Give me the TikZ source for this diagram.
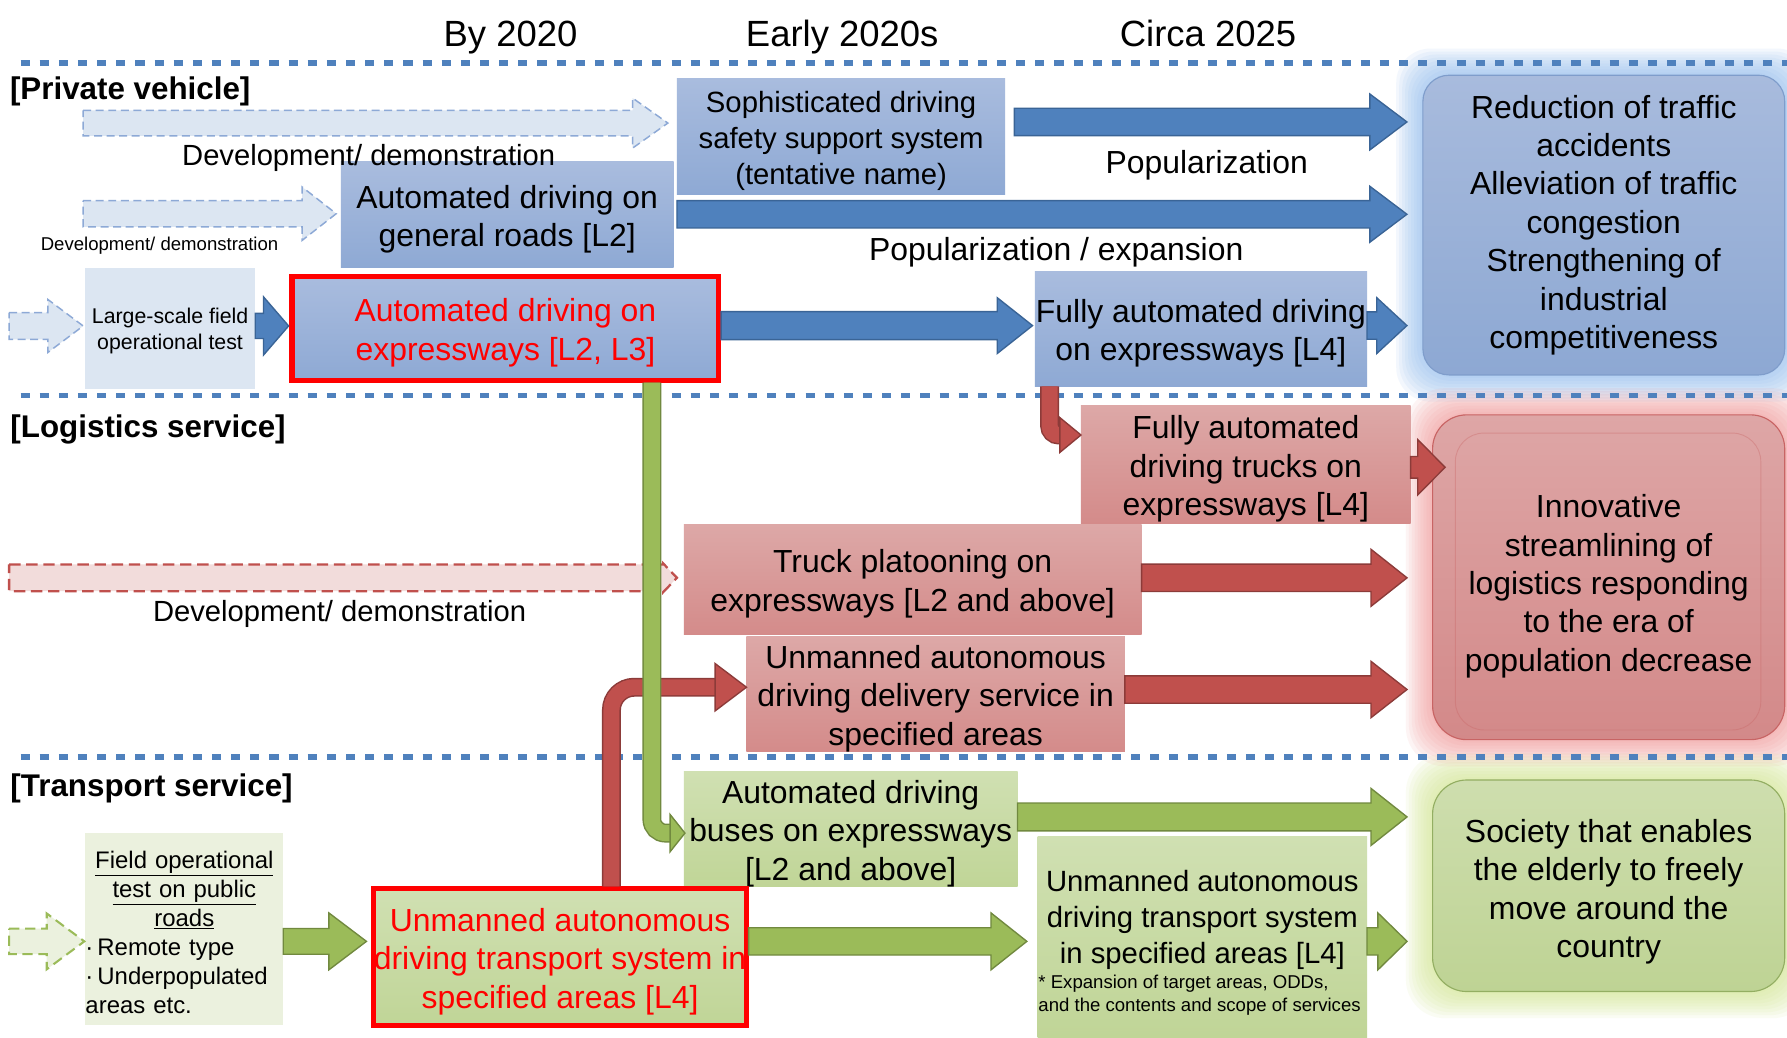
\documentclass[tikz,border=0pt]{standalone}
\usepackage{fontspec}
\setmainfont{Liberation Sans}
\usetikzlibrary{calc,backgrounds}

\definecolor{sepblue}{HTML}{4F81BD}
\definecolor{boxbluetop}{HTML}{A9BCDE}
\definecolor{boxbluebot}{HTML}{8EA9D4}
\definecolor{arrblue}{HTML}{4F81BD}
\definecolor{arrblueline}{HTML}{3A6496}
\definecolor{paleblue}{HTML}{DCE6F2}
\definecolor{dashblue}{HTML}{8DA9D6}
\definecolor{boxredtop}{HTML}{DDA8A7}
\definecolor{boxredbot}{HTML}{D48B8A}
\definecolor{arrred}{HTML}{C0504D}
\definecolor{arrredline}{HTML}{8C3B39}
\definecolor{palered}{HTML}{F2DCDB}
\definecolor{boxgreentop}{HTML}{D0E0B2}
\definecolor{boxgreenbot}{HTML}{C0D597}
\definecolor{arrgreen}{HTML}{9BBB59}
\definecolor{arrgreenline}{HTML}{71893F}
\definecolor{palegreen}{HTML}{EBF1DE}
\definecolor{goalbluetop}{HTML}{A8BBDD}
\definecolor{goalbluebot}{HTML}{8DA8D3}
\definecolor{goalblueline}{HTML}{7F9DCB}
\definecolor{goalredtop}{HTML}{DEA6A6}
\definecolor{goalredbot}{HTML}{D38989}
\definecolor{goalredline}{HTML}{C86464}
\definecolor{goalgreentop}{HTML}{CEDEAE}
\definecolor{goalgreenbot}{HTML}{BED394}
\definecolor{goalgreenline}{HTML}{93AE62}
\definecolor{glowblue}{HTML}{8DB9EE}
\definecolor{glowred}{HTML}{F08C8C}
\definecolor{glowgreen}{HTML}{D2E68C}

\newcommand\hdsz{\fontsize{32}{38}\selectfont}
\newcommand\secsz{\fontsize{27.5}{32}\selectfont\bfseries}
\newcommand\txtsz{\fontsize{28}{33.7}\selectfont}
\newcommand\midsz{\fontsize{25.7}{31.5}\selectfont}
\newcommand\devsz{\fontsize{25.6}{30}\selectfont}
\newcommand\fotsz{\fontsize{18.7}{23}\selectfont}
\newcommand\fldsz{\fontsize{21}{25.3}\selectfont}
\newcommand\tinysz{\fontsize{16.3}{20}\selectfont}
\newcommand\tstrut{\rule{0pt}{1em}}

% block arrow: style, from, to, half shaft, half head, head length
\newcommand\blockarrow[6]{%
  \draw[#1] let \p1=#2, \p2=#3 in
    (\x1,\y1+#4pt) -- (\x2-#6pt,\y1+#4pt) -- (\x2-#6pt,\y1+#5pt) -- (\x2,\y1)
    -- (\x2-#6pt,\y1-#5pt) -- (\x2-#6pt,\y1-#4pt) -- (\x1,\y1-#4pt) -- cycle;}
% head of a bent pipe: style, tip, half head, head length
\newcommand\pipehead[4]{%
  \draw[#1] let \p1=#2 in (\x1,\y1) -- (\x1-#4pt,\y1+#3pt) -- (\x1-#4pt,\y1-#3pt) -- cycle;}

\tikzset{
  box/.style={rectangle, inner sep=0pt, outer sep=0pt, anchor=north west, align=center, font=\txtsz},
  bluebox/.style={box, top color=boxbluetop, bottom color=boxbluebot},
  redbox/.style={box, top color=boxredtop, bottom color=boxredbot},
  greenbox/.style={box, top color=boxgreentop, bottom color=boxgreenbot},
  redframe/.style={draw=red, line width=4.5pt, text=red},
  goal/.style={box, rounded corners=25pt, line width=1pt},
  lbl/.style={inner sep=0pt, anchor=base},
  bluearrow/.style={fill=arrblue, draw=arrblueline, line width=1.2pt},
  redarrow/.style={fill=arrred, draw=arrredline, line width=1.2pt},
  greenarrow/.style={fill=arrgreen, draw=arrgreenline, line width=1.2pt},
  devblue/.style={fill=paleblue, draw=dashblue, line width=1.3pt, dash pattern=on 7pt off 4pt},
  devred/.style={fill=palered, draw=arrred, line width=2pt, dash pattern=on 10pt off 5pt},
  devgreen/.style={fill=palegreen, draw=arrgreen, line width=1.8pt, dash pattern=on 9pt off 5pt},
  pipe/.style={line width=1.3pt, double distance=14pt},
  sep/.style={sepblue, line width=5pt, dash pattern=on 8pt off 8.8pt}
}

\begin{document}
\begin{tikzpicture}[x=1pt, y=-1pt]
\useasboundingbox (0,0) rectangle (1568,910);

% private vehicle
\node[bluebox, font=\midsz, minimum width=288pt, minimum height=102.4pt] (soph) at (594,68.6) {\tstrut Sophisticated driving\\safety support system\\(tentative name)};
\node[bluebox, minimum width=292pt, minimum height=93pt] (genroad) at (299,142) {\tstrut Automated driving on\\general roads [L2]};
\node[box, fill=paleblue, font=\fotsz, minimum width=149.5pt, minimum height=106pt] (fot) at (74.5,235) {\tstrut Large-scale field\\operational test};
\node[bluebox, redframe, minimum width=374.5pt, minimum height=91.5pt] (expL23) at (256.25,242.25) {\tstrut Automated driving on\\expressways [L2, L3]};
\node[bluebox, minimum width=291.5pt, minimum height=101pt] (expL4) at (908,238) {\tstrut Fully automated driving\\on expressways [L4]};
\node[goal, top color=goalbluetop, bottom color=goalbluebot, draw=goalblueline, rounded corners=23pt, minimum width=317.5pt, minimum height=263pt] (goalpriv) at (1248.5,66) {Reduction of traffic\\accidents\\Alleviation of traffic\\congestion\\Strengthening of\\industrial\\competitiveness};

% logistics service
\node[redbox, minimum width=289.2pt, minimum height=103pt] (truckL4) at (948.5,356) {\tstrut Fully automated\\driving trucks on\\expressways [L4]};
\node[redbox, minimum width=401.7pt, minimum height=97pt] (platoon) at (600,460) {\tstrut Truck platooning on\\expressways [L2 and above]};
\node[redbox, minimum width=332pt, minimum height=98.4pt] (delivery) at (655,558.6) {\tstrut Unmanned autonomous\\driving delivery service in\\specified areas};
\node[goal, top color=goalredtop, bottom color=goalredbot, draw=goalredline, rounded corners=30pt, minimum width=309pt, minimum height=285pt] (goallogi) at (1257,364) {\rule{0pt}{36pt}Innovative\\streamlining of\\logistics responding\\to the era of\\population decrease};
\draw[goalredline, opacity=0.35, line width=0.8pt, rounded corners=25pt] ($(goallogi.north west)+(20,16)$) rectangle ($(goallogi.south east)+(-21,-8.5)$);

% transport service
\node[greenbox, minimum width=292.8pt, minimum height=97.5pt] (buses) at (600,677) {\tstrut Automated driving\\buses on expressways\\{}[L2 and above]};
\node[greenbox, redframe, minimum width=325.2pt, minimum height=120.1pt] (transL4) at (328.05,779.65) {\tstrut Unmanned autonomous\\driving transport system in\\specified areas [L4]};
\node[greenbox, minimum width=289pt, minimum height=176pt] (unmannedB) at (910.5,734) {};
\node[font=\midsz, align=center, inner sep=0pt] (ubtxt) at (1055,807.5) {Unmanned autonomous\\driving transport system\\in specified areas [L4]};
\node[font=\tinysz, align=left, anchor=west, inner sep=0pt] (ubnote) at (911,873) {* Expansion of target areas, ODDs,\\and the contents and scope of services};
\node[box, fill=palegreen, font=\fldsz, text width=173.5pt, align=left, minimum height=168.5pt] (pubtest) at (75,731) {{\centering\tstrut\underline{Field operational}\\\underline{test on public}\\\underline{roads}\par}·\,Remote type\\·\,Underpopulated\\areas etc.};
\node[goal, top color=goalgreentop, bottom color=goalgreenbot, draw=goalgreenline, rounded corners=30pt, minimum width=309pt, minimum height=185.6pt] (goaltrans) at (1257,684.4) {\rule{0pt}{31pt}Society that enables\\the elderly to freely\\move around the\\country};

\begin{scope}[on background layer]
  \fill[white] (0,0) rectangle (1568,910);
  \foreach \g in {1,...,9} {
    \fill[glowblue, opacity=0.1, rounded corners=30pt] ($(goalpriv.north west)+(-2.6*\g,-2.6*\g)$) rectangle ($(goalpriv.south east)+(2.6*\g,2.6*\g)$);
    \fill[glowred, opacity=0.09, rounded corners=34pt] ($(goallogi.north west)+(-2.6*\g,-2.6*\g)$) rectangle ($(goallogi.south east)+(2.6*\g,2.6*\g)$);
    \fill[glowgreen, opacity=0.1, rounded corners=34pt] ($(goaltrans.north west)+(-2.6*\g,-2.6*\g)$) rectangle ($(goaltrans.south east)+(2.6*\g,2.6*\g)$);
  }
  \draw[sep] (18,55) -- (1568,55);
  \draw[sep] (18,347) -- (1568,347);
  \draw[sep] (18,664.5) -- (1568,664.5);
\end{scope}

\coordinate (dv1) at (73,108);
\coordinate (dv2) at (73,187.5);
\coordinate (dv3) at (8,286);
\coordinate (dl1) at (8,507);
\coordinate (dt1) at (8,826);

% arrows, private vehicle
\blockarrow{devblue}{(dv1)}{($(soph.west |- dv1)+(-8,0)$)}{11.25}{22}{31}
\blockarrow{devblue}{(dv2)}{($(genroad.west |- dv2)+(-4,0)$)}{11.5}{23.5}{30}
\blockarrow{devblue}{(dv3)}{($(fot.west |- dv3)+(-1.5,0)$)}{11.75}{23.25}{31}
\blockarrow{bluearrow}{($(soph.east |- 0,107)+(8,0)$)}{($(goalpriv.west |- 0,107)+(-14,0)$)}{12}{24.5}{32.5}
\blockarrow{bluearrow}{($(genroad.east |- 0,188)+(3,0)$)}{($(goalpriv.west |- 0,188)+(-14,0)$)}{12}{24.5}{32.5}
\blockarrow{bluearrow}{(fot.east |- 0,286)}{($(expL23.west |- 0,286)+(-3,0)$)}{11}{25.5}{22}
\blockarrow{bluearrow}{($(expL23.east |- 0,285.7)+(2,0)$)}{($(expL4.west |- 0,285.7)+(-2,0)$)}{12.25}{24.5}{31}
\blockarrow{bluearrow}{(expL4.east |- 0,285.7)}{($(goalpriv.west |- 0,285.7)+(-14,0)$)}{12}{24.5}{26.5}

% arrows, logistics service
\blockarrow{devred}{(dl1)}{($(platoon.west |- dl1)+(-6,0)$)}{11.75}{12.5}{12}
\draw[pipe, draw=arrredline, double=arrred, rounded corners=8pt] (expL4.south -| 921,0) |- ($(truckL4.west |- 0,381.7)+(-17,0)$);
\pipehead{redarrow}{(truckL4.west |- 0,381.7)}{15.25}{18.5}
\blockarrow{redarrow}{(truckL4.east |- 0,410)}{($(goallogi.west |- 0,410)+(11,0)$)}{9.5}{24.3}{24}
\blockarrow{redarrow}{(platoon.east |- 0,507)}{($(goallogi.west |- 0,507)+(-22.4,0)$)}{12}{25}{31.6}
\blockarrow{redarrow}{(delivery.east |- 0,605)}{($(goallogi.west |- 0,605)+(-22.4,0)$)}{12}{24.7}{31.6}
\draw[pipe, draw=arrredline, double=arrred, rounded corners=20pt] ($(transL4.north -| 536.5,0)+(0,-2)$) |- ($(delivery.west |- 0,603)+(-27,0)$);
\pipehead{redarrow}{(delivery.west |- 0,603)}{20.75}{27.5}
\draw[pipe, draw=arrgreenline, double=arrgreen, rounded corners=12pt] ($(expL23.south -| 572,0)+(0,2)$) |- ($(buses.west |- 0,731)+(-11,0)$);
\pipehead{greenarrow}{($(buses.west |- 0,731)+(1,0)$)}{16.3}{13}

% arrows, transport service
\blockarrow{devgreen}{(dt1)}{($(pubtest.west |- dt1)+(-1,0)$)}{11.25}{24.5}{33}
\blockarrow{greenarrow}{(pubtest.east |- 0,826)}{($(transL4.west |- 0,826)+(-6.5,0)$)}{11.25}{25}{33}
\blockarrow{greenarrow}{($(transL4.east |- 0,826)+(2,0)$)}{($(unmannedB.west |- 0,826)+(-9.5,0)$)}{12}{25}{31.5}
\blockarrow{greenarrow}{(unmannedB.east |- 0,826)}{($(goaltrans.west |- 0,826)+(-22.4,0)$)}{12}{25}{25.6}
\blockarrow{greenarrow}{(buses.east |- 0,716.8)}{($(goaltrans.west |- 0,716.8)+(-22.4,0)$)}{12.2}{25}{31.6}

% labels
\node[lbl, font=\hdsz] (hdby) at (448,41) {By 2020};
\node[lbl, font=\hdsz] (hdearly) at (739,41) {Early 2020s};
\node[lbl, font=\hdsz] (hdcirca) at (1060,41) {Circa 2025};
\node[lbl, anchor=base west, font=\secsz] (lblpriv) at (8.6,87.7) {[Private vehicle]};
\node[lbl, anchor=base west, font=\secsz] (lbllogi) at (9,383.7) {[Logistics service]};
\node[lbl, anchor=base west, font=\secsz] (lbltrans) at (9,698.5) {[Transport service]};
\node[lbl, font=\devsz] (lbldev1) at (323.5,145) {Development/ demonstration};
\node[lbl, font=\tinysz] (lbldev2) at (140,219.8) {Development/ demonstration};
\node[lbl, font=\txtsz] (lblpop) at (1058.8,151.8) {Popularization};
\node[lbl, font=\txtsz] (lblpopexp) at (926.8,228.7) {Popularization / expansion};
\node[lbl, font=\devsz] (lbldev3) at (298,545) {Development/ demonstration};
\end{tikzpicture}
\end{document}
